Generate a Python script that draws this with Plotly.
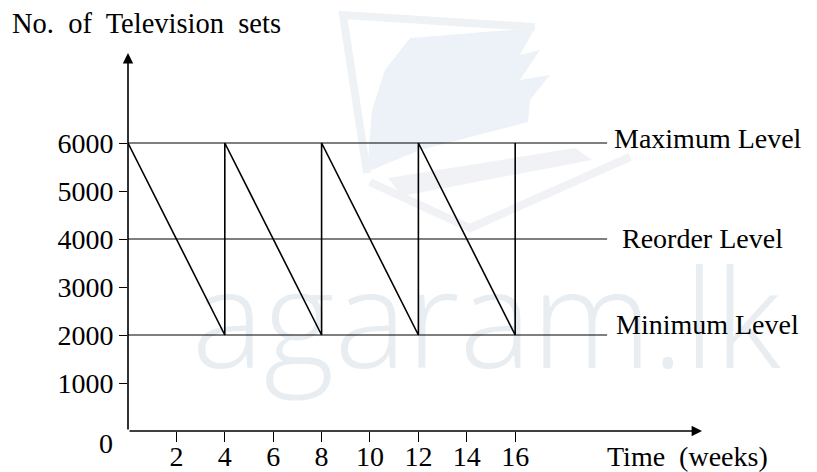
import plotly.graph_objects as go

# ---- data ----
weeks = [0, 4, 4, 8, 8, 12, 12, 16, 16]
stock = [6000, 2000, 6000, 2000, 6000, 2000, 6000, 2000, 6000]
level_names = ["Maximum Level", "Reorder Level", "Minimum Level"]
level_values = [6000, 4000, 2000]
level_label_x = [20.0, 20.35, 20.1]
level_label_shift = [5, 1, 11]
x_ticks = [2, 4, 6, 8, 10, 12, 14, 16]
y_ticks = [1000, 2000, 3000, 4000, 5000, 6000]
line_end_week = 19.8
x_max = 23.72
y_max = 7875

SERIF = "Liberation Serif, Times New Roman, serif"
FS = 28

# page body has an 8px margin -> figure is 8px smaller than the window
W, H = 809, 464
PL, PR, PT, PB = 120, 115, 45, 41
PW, PH = W - PL - PR, H - PT - PB


def paper(px, py):
    # reference-window pixel -> paper coordinates
    return (px - 8 - PL) / PW, (H - PB - (py - 8)) / PH


def path(points, close=True):
    s = ""
    for i, (px, py) in enumerate(points):
        x, y = paper(px, py)
        s += ("M" if i == 0 else "L") + f"{x:.4f},{y:.4f} "
    return s + ("Z" if close else "")


fig = go.Figure()

# faint watermark text (below everything)
fig.add_trace(go.Scatter(
    x=[14.8], y=[2020], mode="text", text=["agaram.lk"],
    textfont=dict(family="Open Sans, Roboto, sans-serif", size=136, color="#e8edf2", weight=300),
    hoverinfo="skip", showlegend=False, cliponaxis=False))

# faint laptop logo (decoration)
logo_screen = [(410, 38), (535, 28), (520, 55), (540, 50), (520, 80), (550, 75), (530, 100),
               (528, 122), (420, 150), (367, 172), (372, 110), (385, 70)]
logo_keys = [(388, 178), (575, 148), (592, 160), (402, 196)]
logo_frame = [(367, 173), (343, 15), (535, 27)]
logo_base = [(370, 182), (470, 228), (630, 157)]
shapes = [
    dict(type="path", path=path(logo_screen), xref="paper", yref="paper",
         fillcolor="#edf2f8", line=dict(width=0), layer="below"),
    dict(type="path", path=path(logo_keys), xref="paper", yref="paper",
         fillcolor="#f0f2f5", line=dict(width=0), layer="below"),
    dict(type="path", path=path(logo_frame, close=False), xref="paper", yref="paper",
         line=dict(color="#eff2f5", width=8), layer="below"),
    dict(type="path", path=path(logo_base, close=False), xref="paper", yref="paper",
         line=dict(color="#f0f2f5", width=8), layer="below"),
]

# level lines
for v in level_values:
    fig.add_trace(go.Scatter(
        x=[-0.2, line_end_week], y=[v, v], mode="lines",
        line=dict(color="black", width=1.1), showlegend=False, hoverinfo="skip",
        cliponaxis=False))

# inventory sawtooth
fig.add_trace(go.Scatter(
    x=weeks, y=stock, mode="lines", line=dict(color="black", width=1.6),
    showlegend=False, cliponaxis=False))

annotations = []
for name, v, lx, sh in zip(level_names, level_values, level_label_x, level_label_shift):
    annotations.append(dict(x=lx, y=v, xref="x", yref="y", text=name, showarrow=False,
                            xanchor="left", yanchor="middle", yshift=sh,
                            font=dict(family=SERIF, size=FS, color="black")))

# axis arrows
annotations.append(dict(x=0, y=y_max, ax=0, ay=0, xref="x", yref="y", axref="x", ayref="y",
                        text="", showarrow=True, arrowhead=2, arrowsize=1.3, arrowwidth=1.6,
                        arrowcolor="black", standoff=0, startstandoff=0))
annotations.append(dict(x=x_max, y=0, ax=0, ay=0, xref="x", yref="y", axref="x", ayref="y",
                        text="", showarrow=True, arrowhead=2, arrowsize=1.3, arrowwidth=1.6,
                        arrowcolor="black", standoff=0, startstandoff=0))

annotations.append(dict(x=0, y=0, xref="x", yref="y", text="0", showarrow=False,
                        xanchor="right", yanchor="top", xshift=-13, yshift=5,
                        font=dict(family=SERIF, size=FS, color="black")))
annotations.append(dict(x=19.7, y=0, xref="x", yref="y", text="Time  (weeks)", showarrow=False,
                        xanchor="left", yanchor="middle", yshift=-25,
                        font=dict(family=SERIF, size=FS, color="black")))
tx, ty = paper(10, 24)
annotations.append(dict(x=tx, y=ty, xref="paper", yref="paper",
                        text="No.  of  Television  sets", showarrow=False,
                        xanchor="left", yanchor="middle",
                        font=dict(family=SERIF, size=28.5, color="black")))

fig.update_layout(
    width=W, height=H,
    margin=dict(l=PL, r=PR, t=PT, b=PB, autoexpand=False),
    plot_bgcolor="white", paper_bgcolor="white",
    annotations=annotations, shapes=shapes,
    xaxis=dict(range=[0, x_max], showgrid=False, zeroline=False, showline=False,
               automargin=False,
               tickmode="array", tickvals=x_ticks, ticktext=[str(t) for t in x_ticks],
               ticks="outside", ticklen=10, tickwidth=1.2, tickcolor="black",
               ticklabelstandoff=-10,
               tickfont=dict(family=SERIF, size=FS, color="black")),
    yaxis=dict(range=[0, y_max], showgrid=False, zeroline=False, showline=False,
               automargin=False,
               tickmode="array", tickvals=y_ticks, ticktext=[str(t) for t in y_ticks],
               ticks="outside", ticklen=8, tickwidth=1.2, tickcolor="black",
               ticklabelstandoff=0,
               tickfont=dict(family=SERIF, size=FS, color="black")),
)

fig.write_html("out.html")
